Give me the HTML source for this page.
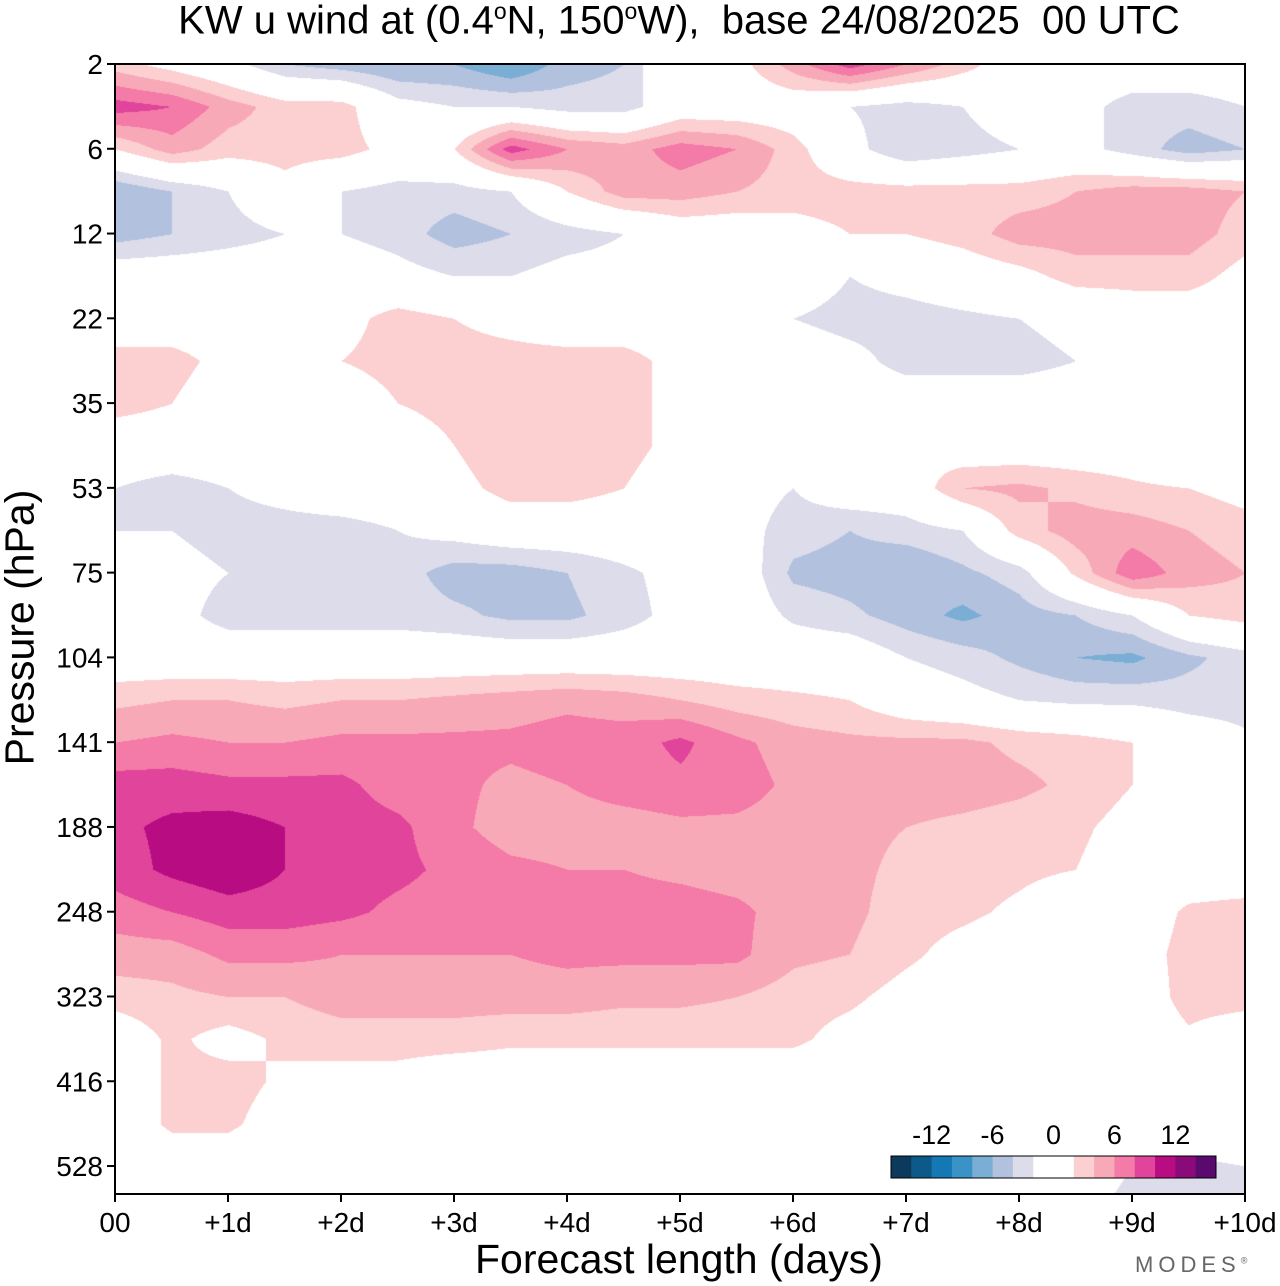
<!DOCTYPE html>
<html><head><meta charset="utf-8">
<style>
body{margin:0;background:#fff;width:1280px;height:1286px;overflow:hidden;font-family:"Liberation Sans",sans-serif;}
#wrap{position:relative;width:1280px;height:1286px;}
.t{position:absolute;white-space:nowrap;color:#000;}
canvas{position:absolute;left:115px;top:64px;}
svg{position:absolute;left:0;top:0;}
</style></head><body>
<div id="wrap">
<div class="t" style="left:0;width:1358px;text-align:center;top:-2px;font-size:40px;">KW u wind at (0.4<sup style="font-size:23px">o</sup>N, 150<sup style="font-size:23px">o</sup>W),&nbsp; base 24/08/2025&nbsp; 00 UTC</div>
<canvas id="cv" width="1130" height="1130"></canvas>
<svg id="ax" width="1280" height="1286"></svg>
<div class="t" style="left:-130px;top:604px;font-size:41px;transform:rotate(-90deg);width:300px;text-align:center;">Pressure (hPa)</div>
<div class="t" style="left:475px;top:1236px;font-size:41px;">Forecast length (days)</div>
<div class="t" style="left:1135px;top:1252px;font-size:22px;letter-spacing:5px;color:#666;">MODES<sup style="font-size:9px">®</sup></div>
</div>
<script>
const xTicks=["00","+1d","+2d","+3d","+4d","+5d","+6d","+7d","+8d","+9d","+10d"];
const yTicks=["2","6","12","22","35","53","75","104","141","188","248","323","416","528"];
const cbLabels=["-12","-6","0","6","12"];
const cbLevels=[-16,-14,-12,-10,-8,-6,-4,-2,0,2,4,6,8,10,12,14,16];
const cbColors=["#0b3a5c","#0d5a8a","#1478b4","#3a93c6","#7aaed4","#b2c2de","#dcdcea","#ffffff","#ffffff","#fccfd0","#f8a9b7","#f47aa7","#e0449b","#b80c82","#8b0a7a","#5a0a6e"];
// u wind (m/s); rows = half pressure-level steps from 2 hPa downward, cols = half-day steps
const u=[
[3,1,-1,-4,-5,-6,-6,-8,-5,-4,2,1,5,9,6,3,0,0,0,0,0],
[9,8,5,3,3,-1,-2,-2,-3,-3,0,0,0,-2,-3,-2,0,-1,-3,-3,-2],
[2,5,3,3,3,1,2,9,6,5,7,6,3,-1,-4,-3,-2,-1,-3,-5,-4],
[-6,-4,-2,1,-2,-3,-3,-2,2,5,5,4,3,3,3,3,3,4,5,5,4],
[-5,-4,-3,-2,-2,-3,-5,-4,-3,-2,0,0,1,2,2,3,5,5,5,5,3],
[0,0,0,0,0,-1,-2,-2,-1,-1,0,0,0,-2,-1,0,1,3,3,3,1],
[0,0,0,0,1,3,2,1,0,0,0,0,-2,-3,-3,-2.5,-2,-1,0,0,0],
[3,3,1,0,2,3,3,3,3,3,1,0,0,-1,-3,-3,-3,-2,0,0,0],
[3,2,0,0,0,2,3,3,3,3,1,0,0,0,0,0,0,0,0,0,0],
[0,0,0,0,0,0,2,4,3,3,1,0,0,2,2,0,0,0,0,-2,0],
[-2,-3,-2,-1,0,0,1,3,3,2,0,-1,-2,0,0,4,4.5,3.5,2.5,2,1],
[-2,-2,-3,-3,-3,-2,-1,0,0,0,0,-1,-3,-4,-3,-2,3,5,5,4,3],
[0,-1,-2,-2,-2.5,-3,-5,-5,-4,-2.5,-1,0,-4.5,-5,-6,-4.5,-3,2.5,7.5,5,4],
[0,-1,-3,-3,-3,-3,-3.5,-4.5,-4.5,-3,-1,0,-2.5,-3.5,-5,-6.5,-5,-4,-2,2,3],
[0,0,0,0,0,0,0,0,0,0,0,0,0,0,-2,-3,-4.5,-6,-6.5,-4.5,-3],
[3.5,4,4,3.5,4,4,4.5,5,5.5,5,4,3,2.5,2,0,-1,-2,-2.5,-2.5,-3,-3],
[6,6.5,6,6,6.5,6.5,6.5,6.5,7,7,8.5,6.5,5,4.5,4.5,4.5,3.5,3,2,0,-1.5],
[9,9,8.5,8.5,8.5,7,6.5,5.5,6,7,7.5,7,5.5,5,5,5,4.5,3.5,2,0,0],
[9.5,10.5,11,10,9,8.5,6.5,5,5,5,5.5,5.5,5,4.5,4,3.5,3,2.5,1,0,0],
[9,10.5,11.5,10,9,8.5,7.5,6.5,6,6,5.5,5,5,4.5,3.5,3,2.5,2,0.5,0,0],
[7,8,9,9,8.5,7.5,7,7,7,7,7,6.5,5,4.5,3,2.5,1.5,0,0,2.5,3],
[5,5,6.5,6.5,6,6,6,6,6.5,6.5,6.5,6.5,4.5,4,2.5,1,0,0,0.5,3,3],
[3,3.5,4,4,5,5,5,5,5,4.5,4.5,4,3,2.5,1,0,0,0,0,3,3],
[0,2.5,1,2.5,3,3,3,2.5,2.5,2.5,2.5,2.5,2.5,1,0,0,0,0,0,1.5,0],
[0,2.5,3,1.5,1,1,0,0,0,0,0,0,0,0,0,0,0,0,0,0,0],
[0,2.5,2.5,0.5,0,0,0,0,0,0,0,0,0,0,0,0,0,0,0,0,0],
[0,0,0,0,0,0,0,0,0,0,0,0,0,0,0,0,0,-1,-2,-2.5,-2],
[0,-1.5,-1,0,0,0,0,0,0,0,0,0,0,0,0,0,0,-1.5,-2.5,-2.5,-2]
];
const PX=115,PY=64,PW=1130,PH=1130;
const dayW=PW/10, lvlH=PH/13.33;
function xOf(d){return PX+d*dayW;}
function yOf(k){return PY+k*lvlH;}
function colorFor(v){
  for(let i=0;i<cbColors.length;i++){ if(v<cbLevels[i+1]) return cbColors[i]; }
  return cbColors[cbColors.length-1];
}
const cv=document.getElementById('cv'),ctx=cv.getContext('2d');
const img=ctx.createImageData(PW,PH);
const nr=u.length,nc=u[0].length;
const rgbCache={};
function rgb(c){if(!rgbCache[c]){rgbCache[c]=[parseInt(c.substr(1,2),16),parseInt(c.substr(3,2),16),parseInt(c.substr(5,2),16)];}return rgbCache[c];}
for(let py=0;py<PH;py++){
  const fr=(py/lvlH)*2; let r0=Math.min(Math.floor(fr),nr-2); const tr=fr-r0;
  for(let px=0;px<PW;px++){
    const fc=(px/dayW)*2; let c0=Math.min(Math.floor(fc),nc-2); const tc=fc-c0;
    const v=(u[r0][c0]*(1-tc)+u[r0][c0+1]*tc)*(1-tr)+(u[r0+1][c0]*(1-tc)+u[r0+1][c0+1]*tc)*tr;
    const c=rgb(colorFor(v)); const i=(py*PW+px)*4;
    img.data[i]=c[0];img.data[i+1]=c[1];img.data[i+2]=c[2];img.data[i+3]=255;
  }
}
ctx.putImageData(img,0,0);
const NS='http://www.w3.org/2000/svg',svg=document.getElementById('ax');
function mk(tag,attrs){const e=document.createElementNS(NS,tag);for(const k in attrs)e.setAttribute(k,attrs[k]);svg.appendChild(e);return e;}
const fr=mk('rect',{x:PX,y:PY,width:PW,height:PH,fill:'none',stroke:'#000','stroke-width':2});


xTicks.forEach((t,i)=>{
  const x=xOf(i);
  const l=mk('line',{x1:x,y1:PY+PH,x2:x,y2:PY+PH+8,stroke:'#000','stroke-width':2});
  
  
  const tx=mk('text',{x:x,y:1232,'text-anchor':'middle','font-size':28,'font-family':'Liberation Sans'});
  tx.textContent=t;
  
  
});
yTicks.forEach((t,i)=>{
  const y=yOf(i);
  const l=mk('line',{x1:PX-8,y1:y,x2:PX,y2:y,stroke:'#000','stroke-width':2});
  
  
  const tx=mk('text',{x:103,y:y+10,'text-anchor':'end','font-size':28,'font-family':'Liberation Sans'});
  tx.textContent=t;
  
  
});
const CBX=891,CBY=1156,CBW=325,CBH=22,bw=CBW/cbColors.length;
cbColors.forEach((c,i)=>{
  const r=mk('rect',{x:CBX+i*bw,y:CBY,width:bw+0.5,height:CBH,fill:c});
  
  
});
const cbf=mk('rect',{x:CBX,y:CBY,width:CBW,height:CBH,fill:'none',stroke:'#000','stroke-width':1});


cbLabels.forEach(t=>{
  const v=parseFloat(t);
  const x=CBX+(v+16)/32*CBW;
  const tx=mk('text',{x:x,y:1144,'text-anchor':'middle','font-size':27,'font-family':'Liberation Sans'});
  tx.textContent=t;
  
  
});
</script>
</body></html>
